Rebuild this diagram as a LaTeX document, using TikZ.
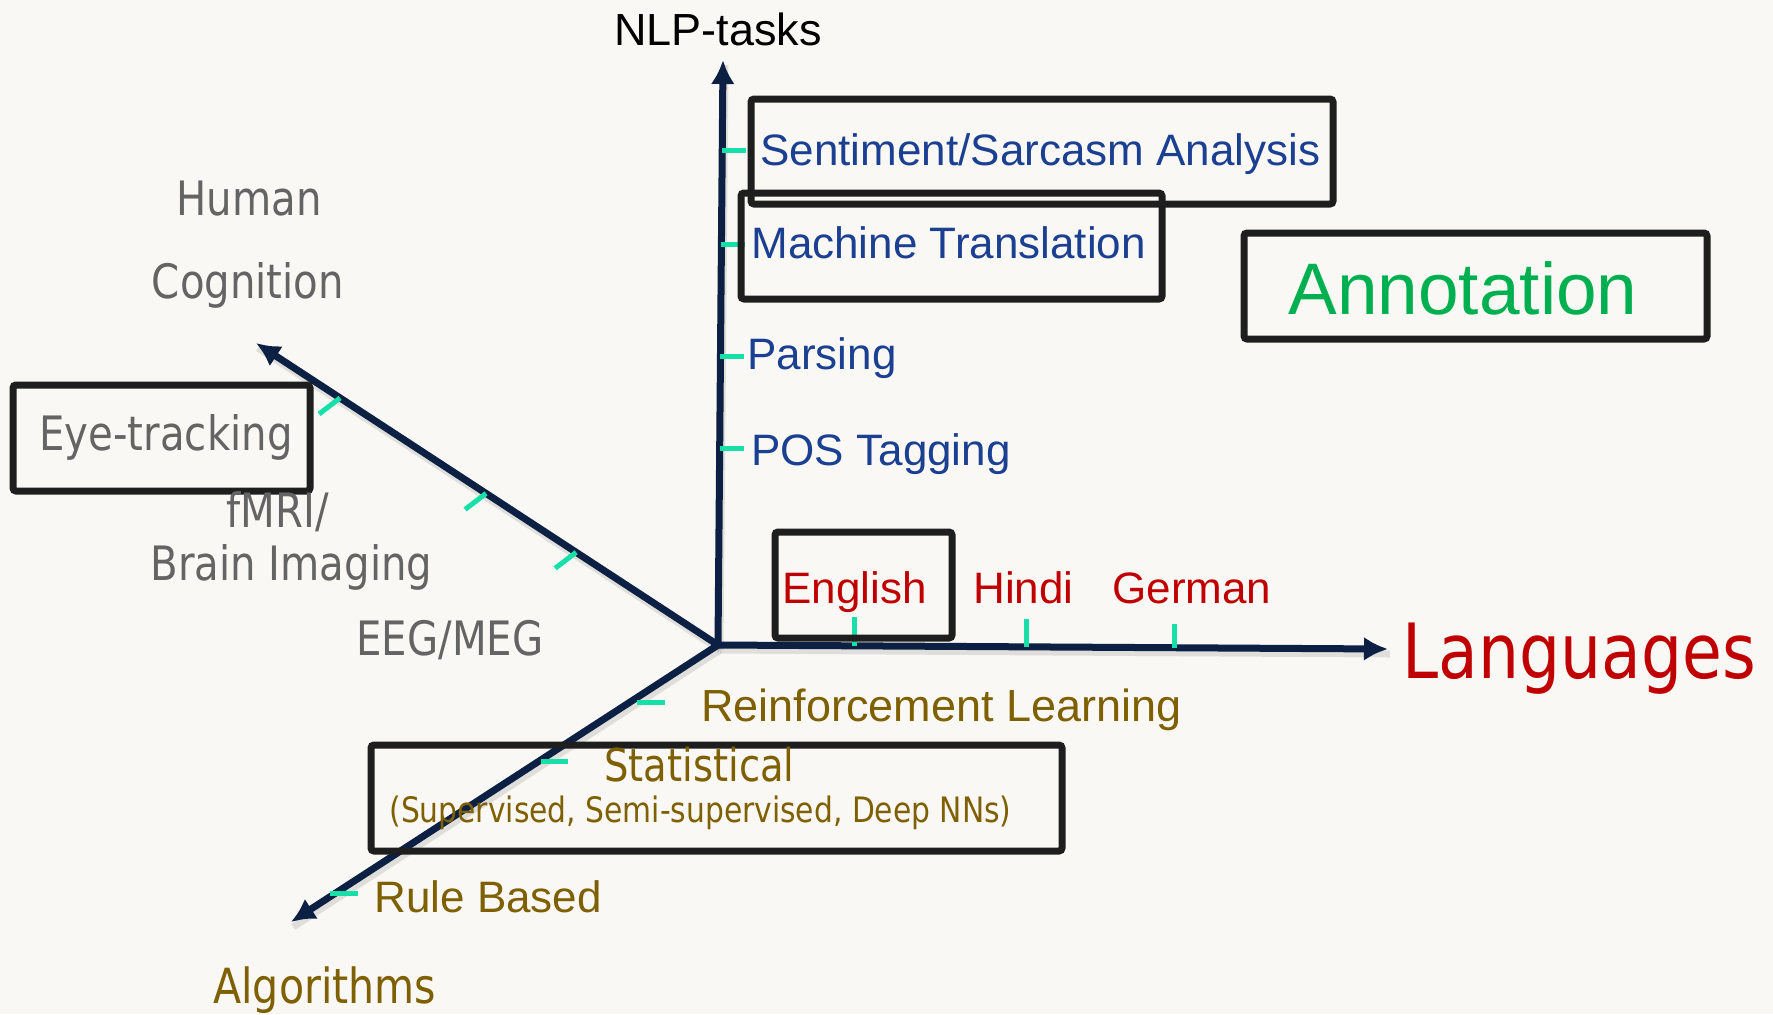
\documentclass[tikz,border=0pt]{standalone}
\usepackage{fontspec}
\usepackage{graphicx}
\setmainfont{Liberation Sans}
\newfontfamily\tahfont{DejaVu Sans}
\usetikzlibrary{arrows.meta,calc}

\definecolor{bgpaper}{HTML}{F9F8F4}
\definecolor{axisnavy}{HTML}{0C2044}
\definecolor{boxline}{HTML}{1E1E1E}
\definecolor{tickteal}{HTML}{16E0A8}
\definecolor{taskblue}{HTML}{1B3F91}
\definecolor{humgray}{HTML}{646464}
\definecolor{langred}{HTML}{C00000}
\definecolor{algolive}{HTML}{7F6000}
\definecolor{annogreen}{HTML}{00B050}

% narrow humanist sans (DejaVu Sans squeezed horizontally)
\newcommand{\tah}[2]{{\tahfont\fontsize{#1}{#1}\selectfont\scalebox{0.875}[1.03]{#2}}}
\newcommand{\ari}[1]{\fontsize{#1}{#1}\selectfont}

\begin{document}
\begin{tikzpicture}[x=0.5pt,y=-0.5pt,
  axis/.style={draw=axisnavy, line width=3.5pt, -{Latex[length=12pt,width=12pt]}},
  axshadow/.style={draw=black, opacity=0.10, line width=3.5pt},
  tickmark/.style={draw=tickteal, line width=2.5pt},
  framebox/.style={draw=boxline, line width=3.5pt, rounded corners=1.5pt, inner sep=0pt},
  lbl/.style={inner sep=0pt, anchor=base west},
  clbl/.style={inner sep=0pt, anchor=base},
]
% paper
\fill[bgpaper] (0,0) rectangle (1773,1014);
\useasboundingbox (0,0) rectangle (1773,1014);

% axis end points
\coordinate (O)     at (718,645);
\coordinate (top)   at (723,60);
\coordinate (left)  at (256,343);
\coordinate (right) at (1388,649);
\coordinate (bot)   at (291,922);

% soft shadows under the axes
\foreach \e in {top,left,right,bot}
  \draw[axshadow] ([shift={(2,5)}]O) -- ([shift={(2,5)}]\e);

% axes
\draw[axis] (O) -- (top);
\draw[axis] (O) -- (left);
\draw[axis] (O) -- (right);
\draw[axis] (O) -- (bot);

% tick marks: NLP tasks
\foreach \t in {0.845,0.685,0.494,0.336}
  \draw[tickmark] ($(O)!\t!(top)$) -- ++(24,0);
% tick marks: languages
\foreach \t/\l in {0.204/29,0.46/28,0.682/24}
  \draw[tickmark] ($(O)!\t!(right)$) -- ++(0,-\l);
% tick marks: human cognition
\foreach \t in {0.818,0.502,0.307}
  \draw[tickmark] ($(O)!\t!(left)$) -- ++(-21,16);
% tick marks: algorithms
\draw[tickmark] ($(O)!0.206!(bot)$) ++(7,0) -- ++(28,0);
\draw[tickmark] ($(O)!0.419!(bot)$) ++(2,0) -- ++(27,0);
\draw[tickmark] ($(O)!0.896!(bot)$) ++(-5,0) -- ++(28,0);

% frames
\node[framebox, minimum width=291pt,  minimum height=52.5pt] (sentbox) at (1042,151.5) {};
\node[framebox, minimum width=210.5pt, minimum height=53pt]  (mtbox)   at (951.5,246) {};
\node[framebox, minimum width=231.5pt, minimum height=53pt]  (annobox) at (1475.5,286) {};
\node[framebox, minimum width=148.5pt, minimum height=53pt]  (eyebox)  at (161.5,438) {};
\node[framebox, minimum width=88.5pt,  minimum height=53pt]  (engbox)  at (863.5,585) {};
\node[framebox, minimum width=345.5pt, minimum height=53pt]  (statbox) at (716.5,798) {};

% axis titles
\node[clbl, font=\ari{22.5pt}, text=black] (nlp) at (718,45) {NLP-tasks};
\node[lbl, text=langred] (langs) at (1402,678) {\tah{37pt}{Languages}};
\node[lbl, text=algolive] (algo) at (213,1003) {\tah{23.5pt}{Algorithms}};
\node[clbl, text=humgray] (human) at (249,215) {\tah{23pt}{Human}};
\node[clbl, text=humgray] (cogn) at (248,298) {\tah{23pt}{Cognition}};

% NLP tasks
\node[lbl, font=\ari{22pt}, text=taskblue] (sent) at (760,165.5) {Sentiment/Sarcasm Analysis};
\node[lbl, font=\ari{22pt}, text=taskblue] (mt)   at (751,258)   {Machine Translation};
\node[lbl, font=\ari{22pt}, text=taskblue] (pars) at (747,369)   {Parsing};
\node[lbl, font=\ari{22pt}, text=taskblue] (pos)  at (751,465)   {POS Tagging};
\node[lbl, font=\ari{36.5pt}, text=annogreen] (anno) at (1288,314) {Annotation};

% languages
\node[lbl, font=\ari{22pt}, text=langred] (eng)  at (782,603)  {English};
\node[lbl, font=\ari{22pt}, text=langred] (hin)  at (973,603)  {Hindi};
\node[lbl, font=\ari{22pt}, text=langred] (ger)  at (1112,603) {German};

% human cognition
\node[lbl, text=humgray] (eye)   at (39,450)  {\tah{23pt}{Eye-tracking}};
\node[lbl, text=humgray] (fmri)  at (226,527) {\tah{23pt}{fMRI/}};
\node[lbl, text=humgray] (brain) at (150,580) {\tah{23pt}{Brain Imaging}};
\node[lbl, text=humgray] (eeg)   at (356,655) {\tah{23pt}{EEG/MEG}};

% algorithms
\node[lbl, font=\ari{22.5pt}, text=algolive] (rl)   at (701,721) {Reinforcement Learning};
\node[lbl, text=algolive] (stat) at (604,781) {\tah{22pt}{Statistical}};
\node[lbl, text=algolive] (sup)  at (389,822) {\tah{17pt}{(Supervised, Semi-supervised, Deep NNs)}};
\node[lbl, font=\ari{22pt}, text=algolive] (rule) at (374,912) {Rule Based};
\end{tikzpicture}
\end{document}
